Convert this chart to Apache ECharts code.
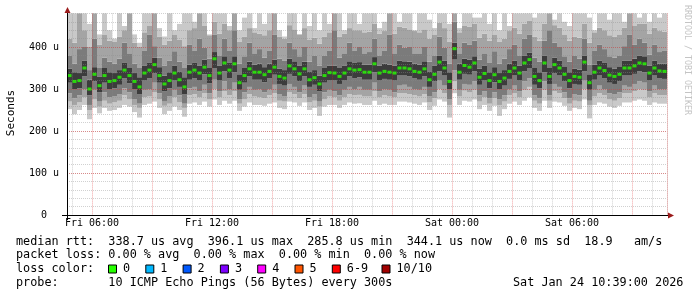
<!DOCTYPE html>
<html><head><meta charset="utf-8">
<script src="https://cdn.jsdelivr.net/npm/echarts@6/dist/echarts.min.js"></script>
<style>html,body{margin:0;padding:0;background:#fff}#c{width:697px;height:297px}</style>
</head><body><div id="c"></div>
<script>
// ---- data (values in microseconds), 15-minute columns starting Fri 04:45 ----
const median = [
332,318,320,350,300,335,308,332,318,320,
328,345,332,318,305,338,345,358,332,312,
320,338,322,305,340,345,338,352,332,372,
338,362,345,360,315,332,348,340,340,334,
342,352,330,326,355,348,336,348,322,327,
312,332,339,338,330,338,348,345,346,340,
340,360,338,342,340,338,350,350,348,342,
340,348,322,335,364,350,318,396,340,356,
352,362,328,337,320,334,318,326,342,350,
338,362,370,330,320,362,330,358,350,335,
320,330,328,364,315,340,350,344,333,330,
335,350,350,355,362,360,338,350,343,342];
const hi4 = [
348,340,338,368,322,352,330,350,340,338,
345,362,350,338,328,355,362,375,352,332,
340,355,342,328,358,362,355,370,350,388,
355,378,362,378,335,350,365,358,360,352,
360,370,348,345,372,366,355,365,342,345,
332,350,356,356,350,355,366,362,364,358,
358,376,356,360,358,356,368,366,365,360,
358,366,342,355,380,368,340,410,360,372,
370,378,348,355,340,352,338,345,360,368,
356,380,386,350,340,380,350,375,368,354,
340,348,346,380,335,358,368,362,352,348,
354,368,368,372,380,378,356,368,360,360];
const lo4 = [
315,300,302,330,285,318,292,315,300,302,
310,326,314,300,288,320,326,338,315,295,
302,320,305,288,322,326,320,335,314,350,
320,342,326,340,298,315,330,322,322,316,
325,334,312,308,336,330,318,330,305,310,
295,315,320,320,312,320,330,326,328,322,
322,340,320,324,322,320,332,332,330,325,
322,330,305,318,342,332,300,370,322,336,
334,342,310,320,302,316,300,308,324,332,
320,342,350,310,302,340,312,338,332,318,
302,312,310,342,298,322,332,326,315,312,
318,332,332,336,342,340,320,332,325,324];
const hi3 = [
380,360,395,400,345,420,350,375,365,360,
372,410,385,360,350,392,430,402,375,355,
368,390,365,350,405,392,420,398,372,430,
380,420,392,440,360,378,410,385,395,375,
392,430,372,368,410,395,378,400,365,380,
355,380,392,440,375,385,410,392,400,385,
388,420,380,392,430,385,405,398,400,385,
385,400,365,380,425,398,360,460,385,410,
405,415,370,385,362,390,360,372,395,405,
380,420,430,375,365,415,440,410,400,378,
365,380,372,420,358,392,405,395,378,375,
380,402,430,405,420,410,382,405,388,392];
const lo3 = [
290,278,285,300,262,298,270,292,280,282,
288,302,292,275,265,298,300,315,290,270,
282,298,285,265,302,305,295,310,290,322,
295,318,300,315,275,292,305,298,300,292,
300,310,288,282,312,305,292,308,280,288,
270,292,298,295,285,298,305,300,305,298,
298,315,295,300,298,292,308,310,305,300,
298,305,282,292,320,308,275,345,298,312,
310,318,285,295,278,292,275,285,300,308,
295,318,325,285,278,318,285,312,305,292,
278,288,285,320,272,298,308,300,290,288,
292,308,305,312,318,315,295,308,300,300];
const hi2 = [
420,410,480,440,400,480,405,430,415,412,
425,440,480,410,400,435,450,480,425,405,
415,430,418,402,440,445,480,450,428,460,
432,455,440,480,412,425,445,435,432,428,
440,480,425,420,452,442,430,445,418,422,
408,425,435,480,425,432,445,440,440,435,
436,455,432,438,480,432,448,446,442,438,
435,442,420,430,458,445,412,480,435,450,
448,455,422,432,415,430,412,420,438,446,
432,456,462,425,415,455,480,452,446,430,
415,425,422,456,410,435,446,440,428,425,
430,446,480,450,456,455,432,446,438,436];
const lo2 = [
270,262,268,280,250,275,258,272,265,268,
272,285,275,262,255,280,282,292,275,260,
265,280,268,255,285,288,280,290,275,300,
280,295,285,295,265,275,288,282,280,278,
285,290,272,270,292,288,278,288,268,272,
258,275,282,280,272,280,288,285,286,282,
282,295,280,285,282,280,290,290,288,285,
282,288,268,278,300,290,262,318,282,296,
292,298,270,280,265,278,262,270,285,290,
280,298,305,272,265,298,272,295,290,278,
265,272,270,300,262,282,290,285,275,272,
278,290,290,295,300,298,280,290,285,285];
const hi1 = [
480,480,480,480,455,480,430,480,440,420,
480,450,480,430,410,480,480,480,445,425,
480,440,455,480,480,460,480,480,430,480,
480,480,450,480,440,470,480,445,480,455,
480,480,440,425,480,480,430,480,450,480,
440,480,455,480,480,440,480,480,455,480,
480,480,445,460,480,480,460,480,480,440,
480,480,465,445,480,480,455,480,445,480,
480,470,470,480,455,480,440,480,450,480,
480,480,480,470,480,480,480,465,480,460,
450,480,480,480,470,440,480,480,465,480,
480,460,480,480,470,480,460,480,470,480];
const lo1 = [
252,240,250,262,228,255,242,255,248,250,
255,262,258,245,232,262,265,270,255,240,
248,258,250,234,265,268,262,270,258,275,
262,272,265,272,248,258,268,262,262,260,
265,268,255,252,270,268,260,268,250,255,
236,258,262,262,255,262,268,265,266,262,
262,272,262,265,262,262,270,270,268,265,
262,268,250,260,275,270,232,290,262,272,
270,275,252,262,248,260,236,252,265,270,
262,272,280,255,248,272,255,270,268,260,
248,255,252,275,230,262,268,265,258,255,
260,268,268,272,275,272,262,268,265,265];

const startMinute = 285;       // Fri 04:45
const stepMinutes = 15;
const dayNames = ['Fri', 'Sat'];
const xTickLabels = ['Fri 06:00', 'Fri 12:00', 'Fri 18:00', 'Sat 00:00', 'Sat 06:00'];
const yTickLabels = ['0', '100 u', '200 u', '300 u', '400 u'];
const lossLabels = ['0', '1', '2', '3', '4', '5', '6-9', '10/10'];
const lossColors = ['#26ff00', '#00b8ff', '#0059ff', '#7e00ff', '#ff00ff', '#ff5500', '#ff0000', '#a10000'];

const pad = n => (n < 10 ? '0' : '') + n;
const times = median.map((_, i) => {
  const t = startMinute + stepMinutes * i;
  const m = t % 1440;
  return dayNames[Math.floor(t / 1440)] + ' ' + pad(Math.floor(m / 60)) + ':' + pad(m % 60);
});
const minuteOf = i => (startMinute + stepMinutes * i) % 1440;

// stacked smoke layers (bottom -> top)
const layers = [lo1, lo2, lo3, lo4, hi4, hi3, hi2, hi1];
const layerColors = [null, '#c9c9c9', '#a4a4a4', '#7b7b7b', '#3c3c3c', '#7b7b7b', '#a4a4a4', '#c9c9c9'];
const series = layers.map((arr, k) => ({
  type: 'bar', stack: 'smoke', xAxisIndex: 0, yAxisIndex: 0,
  barCategoryGap: '0%', silent: true, z: 2,
  itemStyle: { color: k === 0 ? 'rgba(0,0,0,0)' : layerColors[k] },
  data: k === 0 ? arr.slice() : arr.map((v, i) => Math.max(0, v - layers[k - 1][i]))
}));
series.push({
  type: 'scatter', xAxisIndex: 0, yAxisIndex: 0, symbol: 'rect', symbolSize: [4, 3],
  itemStyle: { color: '#26ff00' }, z: 6, silent: true, data: median
});

const mono = 'DejaVu Sans Mono';
const minorLine = { color: 'rgba(140,140,140,0.4)', width: 1, type: [1, 1] };
const majorLine = { color: 'rgba(225,40,40,0.42)', width: 1, type: [1, 1] };

const chart = echarts.init(document.getElementById('c'), null, { renderer: 'canvas', width: 697, height: 297 });

const legendY = [241.5, 255, 268.8, 282.7];
const gText = (x, y, text, extra) => Object.assign({
  type: 'text', x: x, y: y, z: 100,
  style: Object.assign({ text: text, fill: '#000', font: '11.8px "DejaVu Sans Mono"', verticalAlign: 'middle', align: 'left' }, extra || {})
});
const graphics = [
  { type: 'line', z: 100, shape: { x1: 62, y1: 215.5, x2: 668, y2: 215.5 }, style: { stroke: '#000', lineWidth: 1 } },
  { type: 'line', z: 100, shape: { x1: 67.5, y1: 220, x2: 67.5, y2: 11 }, style: { stroke: '#000', lineWidth: 1 } },
  { type: 'polygon', z: 101, shape: { points: [[668, 212.5], [674, 215.5], [668, 218.5]] }, style: { fill: '#9b1b1b' } },
  { type: 'polygon', z: 101, shape: { points: [[64.5, 13], [67.5, 7], [70.5, 13]] }, style: { fill: '#9b1b1b' } },
  { type: 'text', x: 11, y: 113, rotation: Math.PI / 2, z: 100,
    style: { text: 'Seconds', fill: '#000', font: '11px "DejaVu Sans Mono"', align: 'center', verticalAlign: 'middle' } },
  { type: 'text', x: 687.5, y: 5, rotation: -Math.PI / 2, z: 100,
    style: { text: 'RRDTOOL / TOBI OETIKER', fill: '#c4c4c4', font: '8.3px "DejaVu Sans Mono"', align: 'left', verticalAlign: 'middle' } },
  gText(16, legendY[0], 'median rtt:  338.7 us avg  396.1 us max  285.8 us min  344.1 us now  0.0 ms sd  18.9   am/s'),
  gText(16, legendY[1], 'packet loss: 0.00 % avg  0.00 % max  0.00 % min  0.00 % now'),
  gText(16, legendY[2], 'loss color:'),
  gText(16, legendY[3], 'probe:       10 ICMP Echo Pings (56 Bytes) every 300s'),
  gText(513, legendY[3], 'Sat Jan 24 10:39:00 2026')
];
const swatchX = [108.5, 145.8, 183.1, 220.4, 257.7, 295, 332.3, 382];
lossLabels.forEach((lab, i) => {
  graphics.push({ type: 'rect', z: 100, shape: { x: swatchX[i], y: 265, width: 8, height: 8 },
    style: { fill: lossColors[i], stroke: '#000', lineWidth: 1 } });
  graphics.push(gText(swatchX[i] + 14.5, legendY[2], lab));
});

chart.setOption({
  animation: false,
  backgroundColor: '#fff',
  grid: [
    { left: 67, top: 13.4, width: 600, height: 201.6 },
    { left: 67, top: 47, width: 600, height: 168 }
  ],
  xAxis: [
    { type: 'category', gridIndex: 0, data: times, boundaryGap: true, z: 5,
      axisLine: { show: false }, axisTick: { show: false },
      axisLabel: { interval: (i) => xTickLabels.includes(times[i]), formatter: v => v,
        fontFamily: mono, fontSize: 10, color: '#000', margin: 3, padding: [0, 5, 0, 0] },
      splitLine: { show: true, interval: (i) => minuteOf(i) % 60 === 0 && minuteOf(i) % 180 !== 0, lineStyle: minorLine } },
    { type: 'category', gridIndex: 0, data: times, boundaryGap: true, z: 5,
      axisLine: { show: false }, axisTick: { show: false }, axisLabel: { show: false },
      splitLine: { show: true, interval: (i) => minuteOf(i) % 180 === 0, lineStyle: majorLine } },
    { type: 'value', gridIndex: 1, show: false, min: 0, max: 1 }
  ],
  yAxis: [
    { type: 'value', gridIndex: 0, min: 0, max: 480, interval: 20, z: 5,
      axisLine: { show: false }, axisTick: { show: false }, axisLabel: { show: false },
      splitLine: { show: true, lineStyle: minorLine } },
    { type: 'value', gridIndex: 1, min: 0, max: 400, interval: 100, z: 5,
      axisLine: { show: false }, axisTick: { show: false },
      axisLabel: { formatter: v => yTickLabels[Math.round(v / 100)], align: 'center', margin: 23,
        fontFamily: mono, fontSize: 10, color: '#000' },
      splitLine: { show: true, lineStyle: majorLine } }
  ],
  series: series,
  graphic: graphics
});
</script></body></html>
